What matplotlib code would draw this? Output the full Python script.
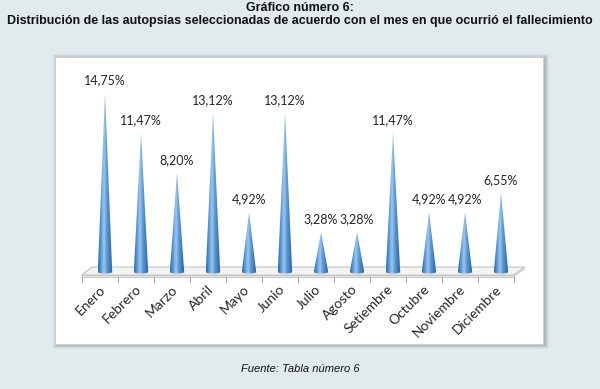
import numpy as np
import matplotlib.pyplot as plt
from matplotlib.patches import Polygon, Rectangle
from matplotlib.colors import LinearSegmentedColormap

# data
meses = ['Enero', 'Febrero', 'Marzo', 'Abril', 'Mayo', 'Junio', 'Julio',
         'Agosto', 'Setiembre', 'Octubre', 'Noviembre', 'Diciembre']
porcentajes = [14.75, 11.47, 8.20, 13.12, 4.92, 13.12, 3.28, 3.28,
               11.47, 4.92, 4.92, 6.55]
etiquetas = ['14,75%', '11,47%', '8,20%', '13,12%', '4,92%', '13,12%', '3,28%',
             '3,28%', '11,47%', '4,92%', '4,92%', '6,55%']
titulo1 = 'Gráfico número 6:'
titulo2 = 'Distribución de las autopsias seleccionadas de acuerdo con el mes en que ocurrió el fallecimiento'
fuente = 'Fuente: Tabla número 6'

W, H = 600, 389
fig = plt.figure(figsize=(W / 100, H / 100), dpi=100)
fig.patch.set_facecolor('#e1eaec')

# axes over whole figure; cone i at x=105+36i px, y=0 at 117px from bottom
sx, sy = 36.0, 12.136
ax = fig.add_axes([0, 0, 1, 1])
ax.set_xlim(-105 / sx, (W - 105) / sx)
ax.set_ylim(-117 / sy, (H - 117) / sy)
ax.axis('off')


def px(x, y):
    # figure pixel (from top-left) -> data
    return (x - 105) / sx, ((H - y) - 117) / sy


# panel shadow + white panel
for k, a in enumerate([0.05, 0.07, 0.09, 0.12]):
    d = 4 - k
    x0, y0 = px(55 - d + 2, 344 + d + 1)
    x1, y1 = px(543 + d + 2, 57 - d + 1)
    ax.add_patch(Rectangle((x0, y0), x1 - x0, y1 - y0, color='#405058',
                           alpha=a, lw=0, zorder=1))
x0, y0 = px(55, 344)
x1, y1 = px(543, 57)
ax.add_patch(Rectangle((x0, y0), x1 - x0, y1 - y0, facecolor='white',
                       edgecolor='#c8d0d4', lw=0.6, zorder=2))

# floor
n = len(meses)
off = 0.15
yf, yb, yt = -0.25, 0.41, -0.40
ax.add_patch(Polygon([(-0.5 - off, yf), (n - 0.5 - off, yf), (n - 0.5 + off, yb),
                      (-0.5 + off, yb)], closed=True, facecolor='#f4f4f4',
                     edgecolor='#c4c4c4', lw=0.8, zorder=3))
ax.add_patch(Polygon([(-0.5 - off, yf), (n - 0.5 - off, yf), (n - 0.5 - off, yt),
                      (-0.5 - off, yt)], closed=True, facecolor='#e2e2e2',
                     edgecolor='#c4c4c4', lw=0.6, zorder=3))
ax.add_patch(Polygon([(n - 0.5 - off, yf), (n - 0.5 + off, yb), (n - 0.5 + off, yb - 0.15),
                      (n - 0.5 - off, yt)], closed=True, facecolor='#e8e8e8',
                     edgecolor='#c4c4c4', lw=0.6, zorder=3))
for k in range(n + 1):
    ax.plot([k - 0.5 - off] * 2, [yt, yt - 0.45], color='#a8a8a8', lw=0.8, zorder=3)

# cones with horizontal gradient
cmap = LinearSegmentedColormap.from_list('cono', ['#2f6aa6', '#5a9ad6', '#9cc8ee',
                                                  '#5b98d4', '#3d7bbd', '#2a5f98'])
grad = np.linspace(0, 1, 64).reshape(1, -1)
hw = 0.2
for i, v in enumerate(porcentajes):
    im = ax.imshow(grad, extent=[i - hw, i + hw, -0.15, v], cmap=cmap,
                   aspect='auto', zorder=4, interpolation='bilinear')
    t = np.linspace(0, np.pi, 20)
    arc = np.column_stack([i + hw * np.cos(t), -0.13 * np.sin(t)])
    clip = Polygon(np.vstack([[[i, v]], arc]), closed=True,
                   facecolor='none', edgecolor='none', transform=ax.transData)
    im.set_clip_path(clip)
    ax.text(i, v + 1.05, etiquetas[i], ha='center', va='center', fontsize=9,
            family='Lato', color='#262626', zorder=5)

# month labels
for i, m in enumerate(meses):
    ax.text(i - 0.05, -1.25, m, rotation=45, rotation_mode='anchor',
            ha='right', va='center', fontsize=10, family='Lato',
            color='#262626', zorder=5)

fig.text(0.5, 1 - 8 / H, titulo1, ha='center', va='center', fontsize=9,
         fontweight='bold', family='Liberation Sans', color='#111111')
fig.text(0.5, 1 - 21 / H, titulo2, ha='center', va='center', fontsize=9,
         fontweight='bold', family='Liberation Sans', color='#111111')
fig.text(0.5, 1 - 369 / H, fuente, ha='center', va='center', fontsize=8,
         style='italic', family='Liberation Sans', color='#111111')

fig.savefig('out.png', dpi=100, facecolor=fig.get_facecolor())
